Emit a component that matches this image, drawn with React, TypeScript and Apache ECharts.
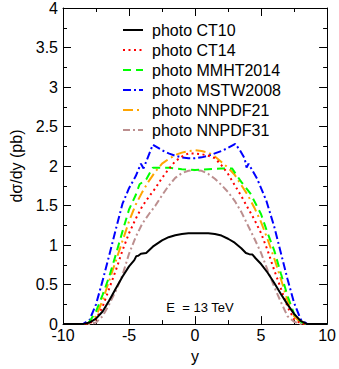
import React, { useEffect, useRef } from "react";
import * as echarts from "echarts";

const seriesNames = [
  "photo CT10",
  "photo CT14",
  "photo MMHT2014",
  "photo MSTW2008",
  "photo NNPDF21",
  "photo NNPDF31",
];

const ct10: [number, number][] = [
  [-10, 0], [-8.5, 0], [-8, 0.02], [-7.5, 0.07], [-7, 0.16], [-6.5, 0.3], [-6, 0.45],
  [-5.5, 0.6], [-5, 0.73], [-4.6, 0.81], [-4.45, 0.86], [-4.3, 0.865], [-4.1, 0.89],
  [-3.7, 0.9], [-3.2, 0.98], [-2.5, 1.06], [-2, 1.1], [-1.5, 1.125], [-1, 1.14],
  [-0.5, 1.15], [0, 1.15], [0.5, 1.15], [1, 1.15], [1.5, 1.14], [2, 1.12], [2.5, 1.08],
  [3, 1.03], [3.5, 0.96], [3.85, 0.9], [4.1, 0.885], [4.35, 0.88], [4.6, 0.83],
  [5, 0.76], [5.5, 0.65], [6, 0.52], [6.5, 0.38], [7, 0.25], [7.5, 0.13], [8, 0.04],
  [8.5, 0], [10, 0],
];

const ct14: [number, number][] = [
  [-10, 0], [-8.2, 0], [-8, 0.01], [-7.5, 0.06], [-7, 0.22], [-6.5, 0.45], [-6, 0.68],
  [-5.5, 0.93], [-5, 1.15], [-4.5, 1.33], [-4, 1.49], [-3.5, 1.61], [-3, 1.72],
  [-2.5, 1.85], [-2, 1.96], [-1.5, 2.06], [-1, 2.12], [-0.5, 2.16], [0, 2.16],
  [0.5, 2.15], [1, 2.13], [1.5, 2.1], [2, 2.01], [2.5, 1.9], [3, 1.76], [3.5, 1.62],
  [4, 1.47], [4.5, 1.32], [5, 1.15], [5.5, 0.93], [6, 0.68], [6.5, 0.45], [7, 0.22],
  [7.5, 0.06], [8, 0.01], [8.2, 0], [10, 0],
];

const mmht2014: [number, number][] = [
  [-10, 0], [-8.3, 0], [-8, 0.03], [-7.5, 0.16], [-7, 0.37], [-6.5, 0.6], [-6, 0.88],
  [-5.5, 1.17], [-5, 1.45], [-4.5, 1.63], [-4.2, 1.77], [-3.7, 1.83], [-3.2, 1.98],
  [-2, 1.98], [-1, 1.96], [0, 1.95], [1, 1.96], [2, 1.97], [2.8, 1.97], [3.5, 1.8],
  [4.2, 1.65], [5, 1.39], [5.5, 1.15], [6, 0.93], [6.5, 0.64], [7, 0.36], [7.5, 0.13],
  [8, 0.03], [8.3, 0], [10, 0],
];

const mstw2008: [number, number][] = [
  [-10, 0], [-8.5, 0], [-8, 0.05], [-7.5, 0.25], [-7, 0.55], [-6.5, 0.87], [-6, 1.2],
  [-5.5, 1.52], [-5, 1.72], [-4.5, 1.87], [-4.1, 2.03], [-3.9, 1.97], [-3.2, 2.27],
  [-2.5, 2.2], [-2, 2.16], [-1.5, 2.13], [-1, 2.11], [-0.5, 2.1], [0, 2.1],
  [0.5, 2.11], [1, 2.13], [1.5, 2.16], [2, 2.19], [2.5, 2.23], [3.05, 2.28],
  [3.4, 2.2], [3.75, 2.1], [3.9, 1.98], [4.05, 2.03], [4.7, 1.84], [5.4, 1.56],
  [6, 1.23], [6.5, 0.9], [7, 0.57], [7.5, 0.27], [8, 0.06], [8.5, 0], [10, 0],
];

const nnpdf21: [number, number][] = [
  [-10, 0], [-8.3, 0], [-8, 0.02], [-7.5, 0.1], [-7, 0.3], [-6.5, 0.55], [-6, 0.8],
  [-5.5, 1.05], [-5, 1.3], [-4.5, 1.51], [-4, 1.67], [-3.5, 1.81], [-3, 1.93],
  [-2.5, 2.03], [-2, 2.09], [-1.5, 2.14], [-1, 2.17], [-0.5, 2.19], [0, 2.2],
  [0.5, 2.19], [1, 2.17], [1.5, 2.12], [2, 2.05], [2.5, 1.98], [3, 1.89], [3.5, 1.76],
  [4, 1.63], [4.5, 1.47], [5, 1.29], [5.5, 1.07], [6, 0.83], [6.5, 0.57], [7, 0.3],
  [7.5, 0.1], [8, 0.02], [8.3, 0], [10, 0],
];

const nnpdf31: [number, number][] = [
  [-10, 0], [-8, 0], [-7.5, 0.02], [-7, 0.1], [-6.5, 0.25], [-6, 0.42], [-5.5, 0.62],
  [-5, 0.89], [-4.5, 1.1], [-4, 1.27], [-3.5, 1.39], [-3, 1.5], [-2.5, 1.63],
  [-2, 1.75], [-1.5, 1.85], [-1, 1.91], [-0.5, 1.94], [0, 1.95], [0.5, 1.94],
  [1, 1.9], [1.5, 1.84], [2, 1.76], [2.5, 1.67], [3, 1.56], [3.5, 1.42], [4, 1.25],
  [4.5, 1.08], [5, 0.9], [5.5, 0.68], [6, 0.47], [6.5, 0.28], [7, 0.1], [7.5, 0.03],
  [8, 0], [10, 0],
];

const seriesData = [ct10, ct14, mmht2014, mstw2008, nnpdf21, nnpdf31];
const seriesColors = ["#000000", "#ff0000", "#00ff00", "#0000ff", "#ffa500", "#bc8f8f"];
const seriesDash: any[] = [
  null,
  [2, 3.5],
  [8, 5],
  [8, 3, 2, 3],
  [10, 4, 2, 4],
  [7, 3, 2, 3],
];

const FONT = "'Liberation Sans', Arial, Helvetica, sans-serif";

export default function App() {
  const ref = useRef<HTMLDivElement>(null);
  useEffect(() => {
    if (!ref.current) return;
    const chart = echarts.init(ref.current, undefined, { renderer: "svg" });
    const axisLine = { show: true, onZero: false, lineStyle: { color: "#000", width: 1 } };
    const axisTick = { show: true, inside: true, length: 8, lineStyle: { color: "#000" } };
    const minorTick = { show: true, splitNumber: 2, length: 4, lineStyle: { color: "#000" } };

    const legendGraphics: any[] = [];
    seriesNames.forEach((name, i) => {
      const rowY = 30 + 20 * i;
      legendGraphics.push({
        type: "line",
        shape: { x1: 123, y1: rowY, x2: 143, y2: rowY },
        style: {
          stroke: seriesColors[i],
          lineWidth: 2,
          lineDash: seriesDash[i] || undefined,
        },
        z: 100,
      });
      legendGraphics.push({
        type: "text",
        x: 152,
        y: rowY,
        style: {
          text: name,
          fontSize: 16,
          fill: "#000",
          fontFamily: FONT,
          verticalAlign: "middle",
          align: "left",
        },
        z: 100,
      });
    });

    chart.setOption({
      animation: false,
      textStyle: { fontFamily: FONT },
      grid: { left: 48, right: 10, top: 7, bottom: 35, containLabel: false },
      xAxis: [
        {
          type: "value",
          min: -10,
          max: 10,
          interval: 5,
          position: "bottom",
          name: "y",
          nameLocation: "middle",
          nameGap: 16,
          nameTextStyle: { fontSize: 16, color: "#000", fontFamily: FONT, verticalAlign: "top" },
          axisLine,
          axisTick,
          minorTick,
          splitLine: { show: false },
          axisLabel: { fontSize: 16, color: "#000", margin: 5, lineHeight: 12, fontFamily: FONT },
        },
        {
          type: "value",
          min: -10,
          max: 10,
          interval: 5,
          position: "top",
          axisLine,
          axisTick,
          minorTick,
          splitLine: { show: false },
          axisLabel: { show: false },
        },
      ],
      yAxis: [
        {
          type: "value",
          min: 0,
          max: 4,
          interval: 0.5,
          position: "left",
          name: "dσ/dy (pb)",
          nameLocation: "middle",
          nameGap: 39,
          nameTextStyle: { fontSize: 16, color: "#000", fontFamily: FONT },
          axisLine,
          axisTick,
          minorTick,
          splitLine: { show: false },
          axisLabel: { fontSize: 16, color: "#000", margin: 5, lineHeight: 10, fontFamily: FONT },
        },
        {
          type: "value",
          min: 0,
          max: 4,
          interval: 0.5,
          position: "right",
          axisLine,
          axisTick,
          minorTick,
          splitLine: { show: false },
          axisLabel: { show: false },
        },
      ],
      graphic: [
        ...legendGraphics,
        {
          type: "text",
          x: 200,
          y: 307,
          style: {
            text: "E  = 13 TeV",
            fontSize: 13,
            fill: "#000",
            fontFamily: FONT,
            align: "center",
            verticalAlign: "middle",
          },
        },
      ],
      series: seriesNames.map((name, i) => ({
        name,
        type: "line",
        data: seriesData[i],
        xAxisIndex: 0,
        yAxisIndex: 0,
        symbol: "none",
        showSymbol: false,
        color: seriesColors[i],
        lineStyle: { color: seriesColors[i], width: 2, type: seriesDash[i] || "solid" },
        z: 10 - i,
      })),
    });
    return () => chart.dispose();
  }, []);
  return (
    <div
      ref={ref}
      style={{ position: "fixed", left: 0, top: 0, width: 339, height: 369, background: "#fff" }}
    />
  );
}
